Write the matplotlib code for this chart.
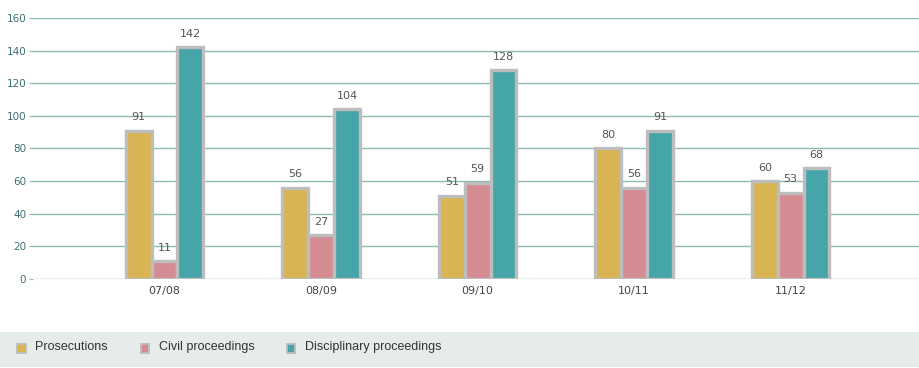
import numpy as np
import matplotlib.pyplot as plt
from matplotlib.patches import Rectangle

years = ['07/08', '08/09', '09/10', '10/11', '11/12']
prosecutions = [91, 56, 51, 80, 60]
civil = [11, 27, 59, 56, 53]
disciplinary = [142, 104, 128, 91, 68]
series_names = ['Prosecutions', 'Civil proceedings', 'Disciplinary proceedings']
colors = ['#d9b452', '#d48b92', '#46a5a8']
edge = '#bdbdbd'

fig = plt.figure(figsize=(9.19, 3.68), dpi=100)
ax = fig.add_axes([0.036, 0.242, 0.964, 0.709])

x = np.arange(len(years))
w = 0.165
for i, (vals, c) in enumerate(zip([prosecutions, civil, disciplinary], colors)):
    bars = ax.bar(x + (i - 1) * w, vals, w, color=c, edgecolor=edge, linewidth=2.4, zorder=3)
    for b, v in zip(bars, vals):
        ax.annotate(str(v), (b.get_x() + b.get_width() / 2, v), xytext=(0, 6),
                    textcoords='offset points', ha='center', va='bottom',
                    fontsize=8, color='#555555')

ax.set_xlim(-0.84, 4.82)
ax.set_ylim(0, 160)
ax.set_yticks(range(0, 161, 20))
ax.set_xticks(x)
ax.set_xticklabels(years)
ax.grid(axis='y', color='#8fbcb0', linewidth=1, zorder=0)
for s in ax.spines.values():
    s.set_visible(False)
ax.tick_params(axis='y', colors='#8fbcb0', labelcolor='#3e6e72', labelsize=7.5, length=3, pad=2)
ax.tick_params(axis='x', length=0, labelcolor='#444444', labelsize=8, pad=5)

# legend band
fig.patches.append(Rectangle((0, 0.003), 1, 0.095, transform=fig.transFigure,
                             facecolor='#e6ece9', edgecolor='none', zorder=0))
leg_x = [0.019, 0.153, 0.312]
for lx, name, c in zip(leg_x, series_names, colors):
    fig.patches.append(Rectangle((lx, 0.040), 0.0095, 0.026, transform=fig.transFigure,
                                 facecolor=c, edgecolor=edge, linewidth=1.3, zorder=2))
    fig.text(lx + 0.0195, 0.057, name, fontsize=9, color='#333333', va='center',
             family='Liberation Sans')

plt.savefig('out.png', dpi=100)
